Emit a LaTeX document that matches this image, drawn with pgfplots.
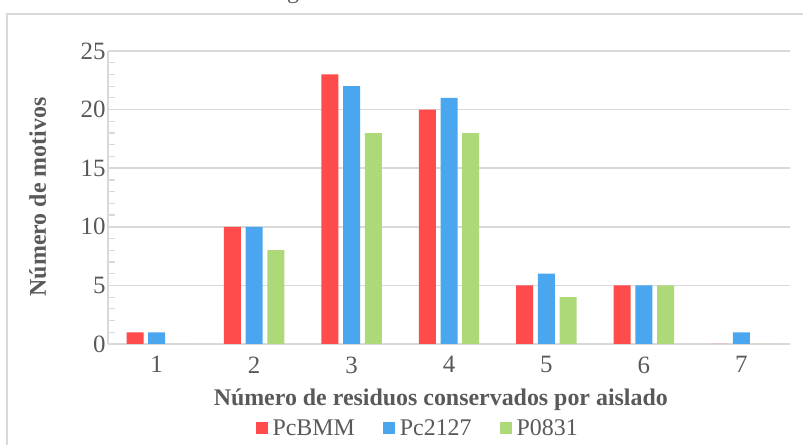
\documentclass[border=0pt]{standalone}
\usepackage{fontspec}
\setmainfont{Liberation Serif}
\usepackage{pgfplots}
\pgfplotsset{compat=1.18}
\definecolor{cRed}{HTML}{FF4B4B}
\definecolor{cBlue}{HTML}{4BA6F0}
\definecolor{cGreen}{HTML}{ADD978}
\definecolor{txt}{HTML}{595959}
\definecolor{gridc}{HTML}{D9D9D9}

\begin{document}
\begin{tikzpicture}
\useasboundingbox (0,0) rectangle (803bp,445bp);
% chart frame
\draw[gridc, line width=1.5bp] (7bp,-20bp) rectangle (830bp,431bp);
\node[anchor=base, text=txt, font=\fontsize{24}{28}\selectfont, inner sep=0pt] at (293bp,446bp) {g};
\begin{axis}[
  at={(108bp,101bp)}, anchor=south west,
  scale only axis, width=682bp, height=293bp,
  xmin=0.5, xmax=7.5, ymin=0, ymax=25,
  ybar=4.7bp, bar width=17bp,
  xtick={1,...,7}, ytick={0,5,...,25},
  minor y tick num=4,
  axis x line*=bottom, axis y line*=left,
  axis line style={gridc, line width=1.5bp, -},
  ymajorgrids, major grid style={gridc, line width=1.5bp},
  tick align=inside,
  major tick length=7bp, minor tick length=7bp,
  tick style={gridc, line width=1.2bp},
  xtick style={draw=none},
  /pgf/number format/assume math mode=true,
  tick label style={font=\fontsize{25}{29}\selectfont, text=txt},
  yticklabel style={xshift=1bp},
  xticklabel style={yshift=-9bp},
  xlabel={Número de residuos conservados por aislado},
  ylabel={Número de motivos},
  xlabel style={at={(axis description cs:0.488,-0.191)}, anchor=center,
    font=\bfseries\fontsize{24}{28}\selectfont, text=txt},
  ylabel style={at={(axis description cs:-0.103,0.502)}, anchor=center,
    font=\bfseries\fontsize{24}{28}\selectfont, text=txt},
  legend style={at={(axis description cs:0.454,-0.287)}, anchor=center,
    legend columns=-1, draw=none, fill=none,
    font=\fontsize{24}{28}\selectfont, text=txt,
    nodes={inner sep=2bp},
    /tikz/every odd column/.append style={column sep=3bp},
    /tikz/every even column/.append style={column sep=26bp}},
  legend image code/.code={\fill[#1] (0bp,-6bp) rectangle (12bp,6bp);},
]
\addplot[fill=cRed, draw=none] coordinates {(1,1) (2,10) (3,23) (4,20) (5,5) (6,5) (7,0)};
\addplot[fill=cBlue, draw=none] coordinates {(1,1) (2,10) (3,22) (4,21) (5,6) (6,5) (7,1)};
\addplot[fill=cGreen, draw=none] coordinates {(1,0) (2,8) (3,18) (4,18) (5,4) (6,5) (7,0)};
\legend{PcBMM, Pc2127, P0831}
\end{axis}
\end{tikzpicture}
\end{document}
